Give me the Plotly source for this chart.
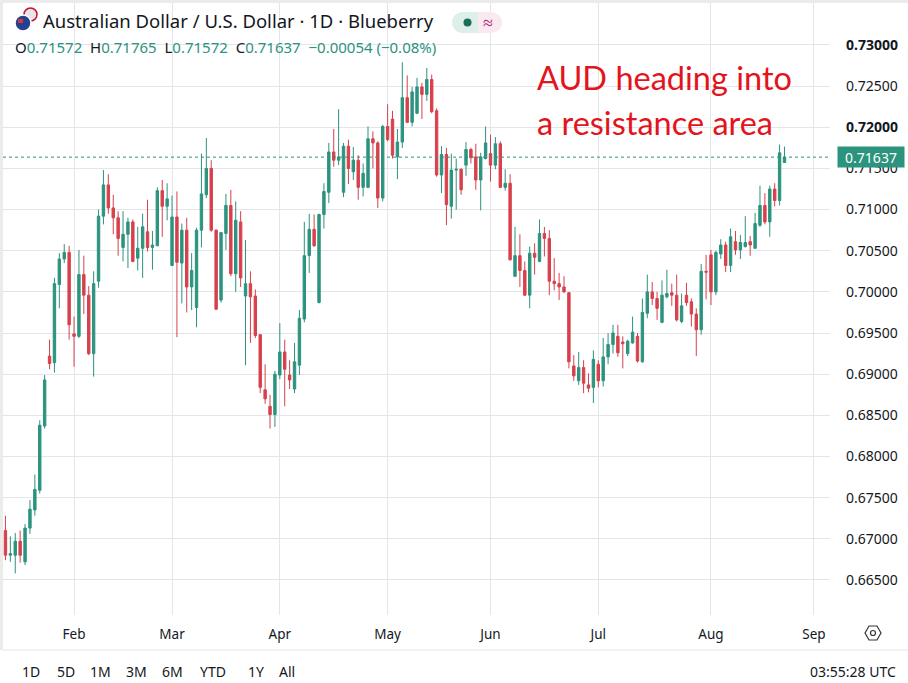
#AUD/USD daily candles - TradingView style screenshot rebuilt with plotly
import pandas as pd
import plotly.graph_objects as go

# trading days shown (Mon-Fri), Jan 13 -> Aug 24 2026
dates = pd.bdate_range("2026-01-13", "2026-08-24")

opens = [0.6710, 0.6680, 0.6680, 0.6697, 0.6672, 0.6713, 0.6735, 0.6759, 0.6837, 0.6922,
         0.6914, 0.7009, 0.7040, 0.7048, 0.6949, 0.6946, 0.7021, 0.6996, 0.6925, 0.7013,
         0.7092, 0.7130, 0.7102, 0.7090, 0.7054, 0.7070, 0.7085, 0.7041, 0.7053, 0.7073,
         0.7054, 0.7056, 0.7123, 0.7104, 0.7032, 0.7091, 0.7035, 0.7075, 0.7006, 0.6981,
         0.7075, 0.7118, 0.7150, 0.7075, 0.6990, 0.7071, 0.7105, 0.7022, 0.7085, 0.6995,
         0.7010, 0.6995, 0.6948, 0.6881, 0.6861, 0.6851, 0.6899, 0.6927, 0.6899, 0.6882,
         0.6911, 0.6967, 0.7044, 0.7076, 0.6987, 0.7094, 0.7121, 0.7170, 0.7160, 0.7121,
         0.7177, 0.7146, 0.7160, 0.7127, 0.7127, 0.7186, 0.7181, 0.7114, 0.7201, 0.7210,
         0.7164, 0.7182, 0.7236, 0.7206, 0.7217, 0.7249, 0.7240, 0.7258, 0.7220, 0.7142,
         0.7167, 0.7104, 0.7148, 0.7149, 0.7154, 0.7173, 0.7164, 0.7136, 0.7162, 0.7168,
         0.7154, 0.7180, 0.7127, 0.7132, 0.7019, 0.7044, 0.7026, 0.6996, 0.7047, 0.7037,
         0.7071, 0.7065, 0.7013, 0.7010, 0.7006, 0.6999, 0.6910, 0.6892, 0.6908, 0.6887,
         0.6884, 0.6912, 0.6892, 0.6921, 0.6936, 0.6946, 0.6939, 0.6925, 0.6938, 0.6946,
         0.6915, 0.6974, 0.7000, 0.6992, 0.6963, 0.6994, 0.6999, 0.6996, 0.6964, 0.6996,
         0.6988, 0.6973, 0.6954, 0.7025, 0.7045, 0.7000, 0.7046, 0.7057, 0.7032, 0.7061,
         0.7051, 0.7055, 0.7061, 0.7053, 0.7081, 0.7105, 0.7085, 0.7125, 0.7111, 0.71572]

highs = [0.6728, 0.6703, 0.6707, 0.6710, 0.6718, 0.6747, 0.6778, 0.6844, 0.6899, 0.6942,
         0.7017, 0.7047, 0.7058, 0.7056, 0.6970, 0.7051, 0.7044, 0.7007, 0.7025, 0.7100,
         0.7148, 0.7143, 0.7118, 0.7098, 0.7098, 0.7090, 0.7088, 0.7079, 0.7095, 0.7112,
         0.7074, 0.7127, 0.7136, 0.7132, 0.7117, 0.7122, 0.7083, 0.7090, 0.7047, 0.7078,
         0.7168, 0.7187, 0.7160, 0.7076, 0.7072, 0.7119, 0.7124, 0.7110, 0.7098, 0.7063,
         0.7025, 0.7003, 0.6948, 0.6912, 0.6875, 0.6904, 0.6962, 0.6942, 0.6917, 0.6938,
         0.6978, 0.7085, 0.7095, 0.7094, 0.7095, 0.7132, 0.7181, 0.7198, 0.7222, 0.7181,
         0.7185, 0.7176, 0.7166, 0.7156, 0.7201, 0.7195, 0.7183, 0.7203, 0.7228, 0.7220,
         0.7198, 0.7279, 0.7263, 0.7249, 0.7260, 0.7254, 0.7272, 0.7264, 0.7223, 0.7177,
         0.7175, 0.7168, 0.7162, 0.7150, 0.7182, 0.7175, 0.7180, 0.7169, 0.7201, 0.7191,
         0.7188, 0.7183, 0.7149, 0.7143, 0.7079, 0.7070, 0.7037, 0.7055, 0.7059, 0.7088,
         0.7079, 0.7075, 0.7041, 0.7023, 0.7019, 0.7000, 0.6923, 0.6927, 0.6917, 0.6901,
         0.6929, 0.6917, 0.6944, 0.6950, 0.6960, 0.6960, 0.6946, 0.6942, 0.6970, 0.6950,
         0.6992, 0.7021, 0.7012, 0.7000, 0.7014, 0.7027, 0.7010, 0.7021, 0.6998, 0.7011,
         0.6992, 0.6980, 0.7034, 0.7045, 0.7051, 0.7050, 0.7064, 0.7061, 0.7077, 0.7074,
         0.7069, 0.7092, 0.7068, 0.7096, 0.7129, 0.7120, 0.7129, 0.7132, 0.7179, 0.71765]

lows = [0.6674, 0.6672, 0.6658, 0.6671, 0.6668, 0.6706, 0.6728, 0.6755, 0.6834, 0.6906,
        0.6902, 0.6980, 0.7035, 0.6942, 0.6909, 0.6944, 0.6973, 0.6923, 0.6897, 0.7005,
        0.7082, 0.7095, 0.7070, 0.7044, 0.7037, 0.7029, 0.7036, 0.7026, 0.7017, 0.7049,
        0.7027, 0.7056, 0.7067, 0.7087, 0.7032, 0.6945, 0.6986, 0.6975, 0.6978, 0.6957,
        0.7054, 0.7114, 0.7073, 0.6978, 0.6987, 0.7051, 0.7019, 0.7000, 0.7006, 0.6911,
        0.6938, 0.6944, 0.6877, 0.6864, 0.6834, 0.6836, 0.6894, 0.6861, 0.6882, 0.6877,
        0.6899, 0.6963, 0.7023, 0.7055, 0.6986, 0.7077, 0.7108, 0.7152, 0.7154, 0.7115,
        0.7131, 0.7136, 0.7112, 0.7116, 0.7126, 0.7150, 0.7102, 0.7110, 0.7183, 0.7162,
        0.7137, 0.7175, 0.7206, 0.7201, 0.7216, 0.7210, 0.7232, 0.7217, 0.7140, 0.7120,
        0.7081, 0.7089, 0.7100, 0.7118, 0.7141, 0.7156, 0.7124, 0.7099, 0.7161, 0.7134,
        0.7149, 0.7126, 0.7123, 0.7038, 0.7018, 0.7006, 0.6995, 0.6980, 0.7021, 0.7036,
        0.7043, 0.6996, 0.7002, 0.6990, 0.6999, 0.6907, 0.6892, 0.6887, 0.6877, 0.6878,
        0.6865, 0.6884, 0.6885, 0.6912, 0.6925, 0.6921, 0.6907, 0.6922, 0.6937, 0.6914,
        0.6914, 0.6968, 0.6984, 0.6966, 0.6962, 0.6992, 0.6983, 0.6964, 0.6962, 0.6983,
        0.6958, 0.6922, 0.6948, 0.6991, 0.6984, 0.6996, 0.7040, 0.7024, 0.7024, 0.7045,
        0.7040, 0.7054, 0.7044, 0.7052, 0.7079, 0.7082, 0.7067, 0.7104, 0.7105, 0.71572]

closes = [0.6680, 0.6682, 0.6697, 0.6680, 0.6713, 0.6736, 0.6760, 0.6838, 0.6893, 0.6913,
          0.7010, 0.7040, 0.7048, 0.6960, 0.6946, 0.7021, 0.6996, 0.6925, 0.7010, 0.7092,
          0.7130, 0.7102, 0.7090, 0.7065, 0.7070, 0.7085, 0.7037, 0.7053, 0.7079, 0.7054,
          0.7057, 0.7123, 0.7104, 0.7113, 0.7091, 0.7036, 0.7075, 0.7006, 0.7026, 0.7075,
          0.7119, 0.7150, 0.7075, 0.6979, 0.7072, 0.7105, 0.7022, 0.7087, 0.7017, 0.7010,
          0.6994, 0.6947, 0.6884, 0.6870, 0.6851, 0.6900, 0.6927, 0.6906, 0.6893, 0.6915,
          0.6968, 0.7044, 0.7076, 0.7056, 0.7094, 0.7122, 0.7170, 0.7160, 0.7164, 0.7177,
          0.7150, 0.7160, 0.7127, 0.7144, 0.7186, 0.7181, 0.7114, 0.7201, 0.7185, 0.7166,
          0.7182, 0.7236, 0.7206, 0.7243, 0.7249, 0.7240, 0.7258, 0.7219, 0.7142, 0.7167,
          0.7106, 0.7148, 0.7149, 0.7124, 0.7173, 0.7163, 0.7136, 0.7164, 0.7181, 0.7154,
          0.7180, 0.7127, 0.7132, 0.7039, 0.7044, 0.7026, 0.6996, 0.7047, 0.7042, 0.7071,
          0.7065, 0.7013, 0.7010, 0.7006, 0.7000, 0.6915, 0.6898, 0.6908, 0.6889, 0.6883,
          0.6918, 0.6892, 0.6921, 0.6936, 0.6950, 0.6926, 0.6937, 0.6940, 0.6951, 0.6916,
          0.6975, 0.7000, 0.6992, 0.6980, 0.6996, 0.6998, 0.6996, 0.6966, 0.6983, 0.6987,
          0.6973, 0.6954, 0.7025, 0.7024, 0.7000, 0.7048, 0.7057, 0.7032, 0.7067, 0.7051,
          0.7060, 0.7060, 0.7057, 0.7083, 0.7105, 0.7085, 0.7125, 0.7111, 0.7169, 0.71637]

last_price = 0.71637

# time axis labels (first trading day of each month)
month_ticks = ["2026-02-02", "2026-03-02", "2026-04-01", "2026-05-01",
               "2026-06-01", "2026-07-01", "2026-08-03", "2026-09-01"]
month_labels = ["Feb", "Mar", "Apr", "May", "Jun", "Jul", "Aug", "Sep"]

# price axis labels
price_ticks = [0.665, 0.670, 0.675, 0.680, 0.685, 0.690, 0.695, 0.700,
               0.705, 0.710, 0.715, 0.720, 0.725, 0.730]
price_bold = [0.720, 0.730]

range_buttons = ["1D", "5D", "1M", "3M", "6M", "YTD", "1Y", "All"]

W, H = 908, 683
UP = "#2b937e"
DOWN = "#d7404c"
GRID = "#e3e5ea"
TXT = "#131722"
FONT = "Noto Sans"


def px(x):  # pixel -> paper x
    return x / W


def py(y):  # pixel -> paper y
    return 1 - y / H


tick_text = []
for v in price_ticks:
    s = "%.5f" % v
    if any(abs(v - b) < 1e-9 for b in price_bold):
        s = "<b>" + s + "</b>"
    tick_text.append(s)

fig = go.Figure()
fig.add_trace(go.Candlestick(
    x=dates, open=opens, high=highs, low=lows, close=closes,
    increasing=dict(line=dict(color=UP, width=1), fillcolor=UP),
    decreasing=dict(line=dict(color=DOWN, width=1), fillcolor=DOWN),
    whiskerwidth=0, hoverinfo="skip", showlegend=False))

shapes = []
# widget frame (left / top)
shapes.append(dict(type="rect", xref="paper", yref="paper", x0=0, x1=px(3), y0=py(650), y1=1,
                   fillcolor="#ebebeb", line=dict(width=0), layer="above"))
shapes.append(dict(type="rect", xref="paper", yref="paper", x0=0, x1=1, y0=py(3), y1=1,
                   fillcolor="#ebebeb", line=dict(width=0), layer="above"))
# separator above bottom toolbar
shapes.append(dict(type="line", xref="paper", yref="paper", x0=px(3), x1=1, y0=py(650), y1=py(650),
                   line=dict(color=GRID, width=1)))
# last price dotted line
shapes.append(dict(type="line", xref="paper", yref="y", x0=px(3), x1=px(830),
                   y0=last_price, y1=last_price, line=dict(color=UP, width=1, dash="dot")))
# settings icon
hexa = [(865, 633), (869, 626), (877, 626), (881, 633), (877, 640), (869, 640)]
path = "M " + " L ".join("%f,%f" % (px(a), py(b)) for a, b in hexa) + " Z"
shapes.append(dict(type="path", xref="paper", yref="paper", path=path,
                   line=dict(color="#333", width=1.2)))
shapes.append(dict(type="circle", xref="paper", yref="paper", x0=px(870.5), x1=px(875.5),
                   y0=py(635.5), y1=py(630.5), line=dict(color="#333", width=1.2)))
# flag icon
shapes.append(dict(type="circle", xref="paper", yref="paper", x0=px(24), x1=px(37),
                   y0=py(21), y1=py(8), fillcolor="#e9e3ea", line=dict(color="#c8102e", width=1.5)))
shapes.append(dict(type="circle", xref="paper", yref="paper", x0=px(15), x1=px(31),
                   y0=py(31), y1=py(15), fillcolor="#24418f", line=dict(color="white", width=1.5)))
shapes.append(dict(type="rect", xref="paper", yref="paper", x0=px(18), x1=px(23),
                   y0=py(23), y1=py(19), fillcolor="#d33", line=dict(width=0)))
# badge (market status)
shapes.append(dict(type="circle", xref="paper", yref="paper", x0=px(452), x1=px(474),
                   y0=py(33), y1=py(12), fillcolor="#dcefe8", line=dict(width=0)))
shapes.append(dict(type="circle", xref="paper", yref="paper", x0=px(480), x1=px(502),
                   y0=py(33), y1=py(12), fillcolor="#fbe9f0", line=dict(width=0)))
shapes.append(dict(type="rect", xref="paper", yref="paper", x0=px(463), x1=px(478),
                   y0=py(33), y1=py(12), fillcolor="#dcefe8", line=dict(width=0)))
shapes.append(dict(type="rect", xref="paper", yref="paper", x0=px(478), x1=px(491),
                   y0=py(33), y1=py(12), fillcolor="#fbe9f0", line=dict(width=0)))
shapes.append(dict(type="circle", xref="paper", yref="paper", x0=px(463.5), x1=px(471.5),
                   y0=py(26.5), y1=py(18.5), fillcolor="#1d6b59", line=dict(width=0)))

ann = []
ann.append(dict(x=px(41), y=py(20), xref="paper", yref="paper", xanchor="left", yanchor="middle",
                text="Australian Dollar / U.S. Dollar · 1D · Blueberry", showarrow=False,
                font=dict(family=FONT, size=18.5, color=TXT)))
ann.append(dict(x=px(488), y=py(22), xref="paper", yref="paper", xanchor="center", yanchor="middle",
                text="≈", showarrow=False, font=dict(family=FONT, size=18, color="#a3267c")))
g = "<span style='color:%s'>" % UP
ohlc = ("O" + g + "0.71572</span>  H" + g + "0.71765</span>  L" + g + "0.71572</span>  C" + g +
        "0.71637</span>  " + g + "−0.00054 (−0.08%)</span>")
ann.append(dict(x=px(13), y=py(47), xref="paper", yref="paper", xanchor="left", yanchor="middle",
                text=ohlc, showarrow=False, font=dict(family=FONT, size=15, color=TXT)))
ann.append(dict(x=px(535), y=py(78), xref="paper", yref="paper", xanchor="left", yanchor="middle",
                text="AUD heading into", showarrow=False,
                font=dict(family="Lato", size=32.5, color="#e3141c")))
ann.append(dict(x=px(535), y=py(122), xref="paper", yref="paper", xanchor="left", yanchor="middle",
                text="a resistance area", showarrow=False,
                font=dict(family="Lato", size=32.5, color="#e3141c")))
# last price label
ann.append(dict(x=px(837), y=last_price, xref="paper", yref="y", xanchor="left", yanchor="middle",
                text="0.71637", showarrow=False, bgcolor=UP, width=64, height=18, borderpad=1,
                font=dict(family=FONT, size=14, color="white")))
# bottom toolbar
btn_x = [31, 66, 100, 136, 172, 213, 256, 287]
for lab, bx in zip(range_buttons, btn_x):
    ann.append(dict(x=px(bx), y=py(683), xref="paper", yref="paper", xanchor="center",
                    yanchor="bottom", text=lab, showarrow=False,
                    font=dict(family=FONT, size=14, color=TXT)))
ann.append(dict(x=px(898), y=py(683), xref="paper", yref="paper", xanchor="right", yanchor="bottom",
                text="03:55:28 UTC", showarrow=False, font=dict(family=FONT, size=14, color=TXT)))

fig.update_layout(
    width=W, height=H,
    margin=dict(l=0, r=0, t=0, b=0),
    paper_bgcolor="white", plot_bgcolor="white",
    showlegend=False,
    shapes=shapes, annotations=ann,
    xaxis=dict(type="date", domain=[px(3), px(830)],
               range=["2026-01-12 12:00", "2026-09-04 07:00"],
               rangebreaks=[dict(bounds=["sat", "mon"])],
               tickvals=month_ticks, ticktext=month_labels,
               showgrid=True, gridcolor=GRID, gridwidth=1, zeroline=False, showline=False,
               ticks="", ticklabelstandoff=9, tickfont=dict(family=FONT, size=13.5, color=TXT),
               rangeslider=dict(visible=False), fixedrange=True),
    yaxis=dict(domain=[py(615), py(3)], range=[0.66074, 0.7351], side="right",
               tickvals=price_ticks, ticktext=tick_text,
               showgrid=True, gridcolor=GRID, gridwidth=1, zeroline=False, showline=False,
               ticks="", ticklabelstandoff=15, tickfont=dict(family=FONT, size=14, color=TXT),
               fixedrange=True),
)

# drop the page margin so the figure sits at the window's corner
fig.write_html("out.html", config={"displayModeBar": False},
               post_script="document.body.style.margin='0';")
